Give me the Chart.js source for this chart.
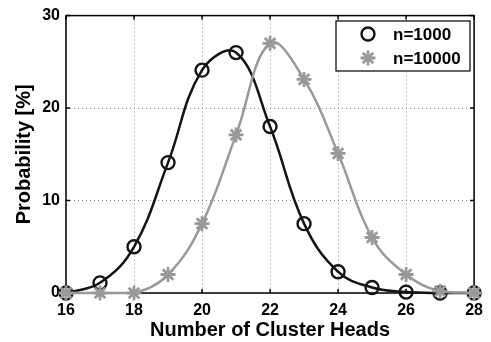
<!DOCTYPE html>
<html>
<head>
<meta charset="utf-8">
<script src="https://cdn.jsdelivr.net/npm/chart.js@4"></script>
<style>
  html, body { margin: 0; padding: 0; background: #fff; }
  #wrap { width: 491px; height: 342px; }
</style>
</head>
<body>
<div id="wrap"><canvas id="chart" width="491" height="342"></canvas></div>
<script>
// ================= DATA =================
const clusterHeads = [16, 17, 18, 19, 20, 21, 22, 23, 24, 25, 26, 27, 28];
const probN1000  = [0, 1.1, 5.0, 14.1, 24.1, 26.0, 18.0, 7.5, 2.3, 0.6, 0.1, 0, 0];
const probN10000 = [0, 0, 0, 2.0, 7.5, 17.1, 27.0, 23.1, 15.1, 6.0, 2.0, 0.2, 0];
const xTicks = [16, 18, 20, 22, 24, 26, 28];
const yTicks = [0, 10, 20, 30];
const seriesLabels = ["n=1000", "n=10000"];

const FONT = "'Liberation Sans', Arial, Helvetica, sans-serif";
const BLACK = "#141414";
const GRAY = "#999999";

function toPoints(values) {
  return clusterHeads.map((x, i) => ({ x: x, y: values[i] }));
}

// ================= FRAME + INWARD TICKS =================
const framePlugin = {
  id: "frame",
  beforeDatasetsDraw(chart) {
    const { ctx, chartArea: a, scales } = chart;
    ctx.save();
    ctx.strokeStyle = "#000";
    ctx.lineWidth = 1.5;
    ctx.strokeRect(a.left, a.top, a.right - a.left, a.bottom - a.top);
    ctx.beginPath();
    xTicks.forEach(v => {
      const px = scales.x.getPixelForValue(v);
      ctx.moveTo(px, a.bottom); ctx.lineTo(px, a.bottom - 4);
      ctx.moveTo(px, a.top); ctx.lineTo(px, a.top + 4);
    });
    yTicks.forEach(v => {
      const py = scales.y.getPixelForValue(v);
      ctx.moveTo(a.left, py); ctx.lineTo(a.left + 4, py);
      ctx.moveTo(a.right, py); ctx.lineTo(a.right - 4, py);
    });
    ctx.stroke();
    ctx.restore();
  }
};

// ================= LEGEND BOX =================
const legendBoxPlugin = {
  id: "legendBox",
  afterDraw(chart) {
    const { ctx } = chart;
    const box = { x: 336, y: 21, w: 134, h: 50 };
    ctx.save();
    ctx.fillStyle = "#fff";
    ctx.fillRect(box.x, box.y, box.w, box.h);
    ctx.strokeStyle = "#000";
    ctx.lineWidth = 1.2;
    ctx.strokeRect(box.x, box.y, box.w, box.h);

    ctx.font = "bold 17px " + FONT;
    ctx.textBaseline = "middle";
    chart.data.datasets.forEach((ds, i) => {
      const cy = box.y + 13 + i * 24;
      const opts = {
        pointStyle: ds.pointStyle,
        radius: ds.pointRadius,
        borderWidth: ds.pointBorderWidth
      };
      ctx.strokeStyle = ds.pointBorderColor;
      ctx.fillStyle = "rgba(0,0,0,0)";
      ctx.lineWidth = ds.pointBorderWidth;
      Chart.helpers.drawPoint(ctx, opts, 368, cy);
      ctx.fillStyle = "#000";
      ctx.fillText(ds.label, 393, cy + 1);
    });
    ctx.restore();
  }
};

const tickFont = { family: FONT, size: 16, weight: "bold" };
const titleFont = { family: FONT, size: 20, weight: "bold" };

new Chart(document.getElementById("chart").getContext("2d"), {
  type: "line",
  data: {
    datasets: [
      {
        label: seriesLabels[0],
        data: toPoints(probN1000),
        borderColor: BLACK,
        borderWidth: 2.5,
        tension: 0.4,
        pointStyle: "circle",
        pointRadius: 6.5,
        pointBorderWidth: 2.4,
        pointBorderColor: BLACK,
        pointBackgroundColor: "rgba(0,0,0,0)",
        clip: false,
        order: 1
      },
      {
        label: seriesLabels[1],
        data: toPoints(probN10000),
        borderColor: GRAY,
        borderWidth: 2.5,
        tension: 0.4,
        pointStyle: "star",
        pointRadius: 7.5,
        pointBorderWidth: 2.8,
        pointBorderColor: GRAY,
        pointBackgroundColor: GRAY,
        clip: false,
        order: 0
      }
    ]
  },
  options: {
    responsive: false,
    animation: false,
    layout: { padding: { left: 0, top: 14, right: 13, bottom: 0 } },
    plugins: {
      legend: { display: false },
      tooltip: { enabled: false }
    },
    scales: {
      x: {
        type: "linear",
        min: 16,
        max: 28,
        afterBuildTicks(scale) { scale.ticks = xTicks.map(v => ({ value: v })); },
        afterFit(scale) { scale.height = 49; },
        ticks: { color: "#000", font: tickFont, padding: 8, maxRotation: 0 },
        grid: { color: "#8a8a8a", lineWidth: 1, drawTicks: false },
        border: { display: false, dash: [1, 3] },
        title: {
          display: true,
          text: "Number of Cluster Heads",
          color: "#000",
          font: titleFont,
          padding: { top: 0, bottom: 0 }
        }
      },
      y: {
        min: 0,
        max: 30,
        afterBuildTicks(scale) { scale.ticks = yTicks.map(v => ({ value: v })); },
        afterFit(scale) { scale.width = 66; },
        ticks: { color: "#000", font: tickFont, padding: 6 },
        grid: { color: "#8a8a8a", lineWidth: 1, drawTicks: false },
        border: { display: false, dash: [1, 3] },
        title: {
          display: true,
          text: "Probability [%]",
          color: "#000",
          font: titleFont,
          padding: { top: 12, bottom: 0 }
        }
      }
    }
  },
  plugins: [framePlugin, legendBoxPlugin]
});
</script>
</body>
</html>
